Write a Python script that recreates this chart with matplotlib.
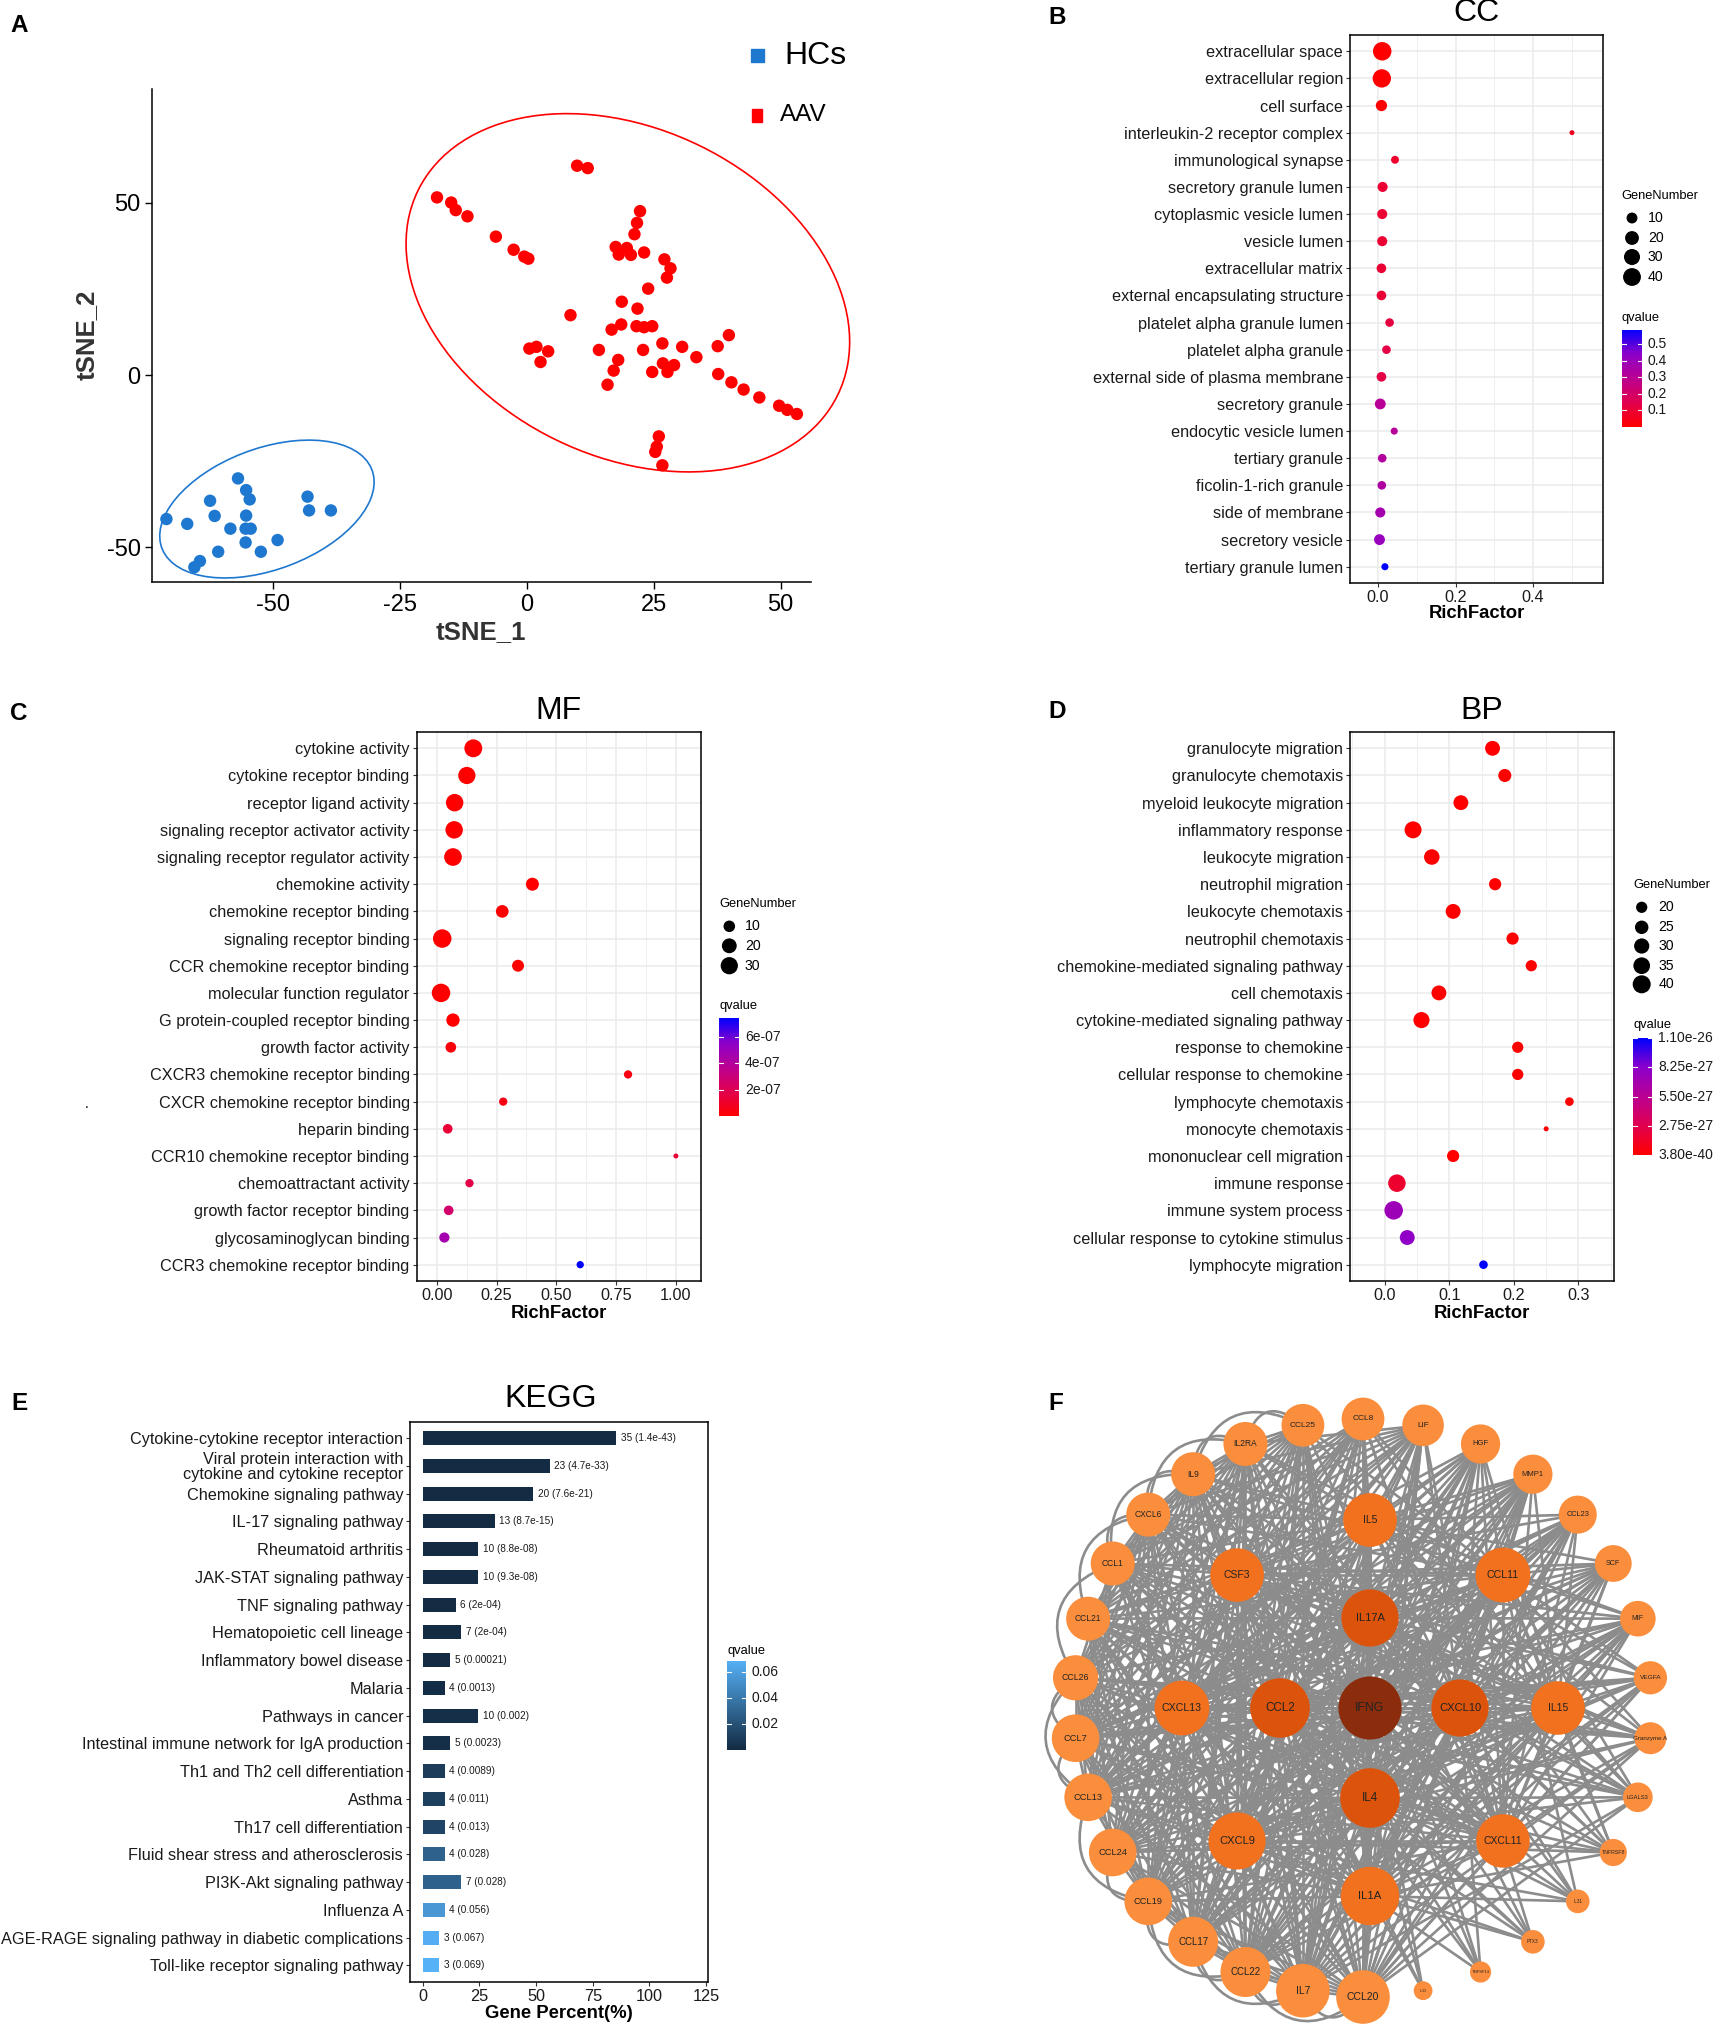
import numpy as np
import matplotlib
matplotlib.use('Agg')
import matplotlib.pyplot as plt
from matplotlib.colors import LinearSegmentedColormap, Normalize
from matplotlib.patches import Circle, Rectangle, PathPatch, Ellipse
from matplotlib.path import Path
from matplotlib.collections import LineCollection

plt.rcParams['font.family'] = ['Liberation Sans', 'DejaVu Sans']
plt.rcParams['axes.unicode_minus'] = False

W, H = 1713, 2032

# ---------------- data ----------------
# A: tSNE
red_x = [-17.7, -14.9, -14.0, -11.7, -6.1, -2.6, -0.5, 0.3, 9.9, 12.0, 22.3, 21.7, 21.2, 17.5, 19.7,
         18.1, 20.5, 23.1, 27.1, 28.3, 27.6, 23.9, 18.7, 21.8, 8.6, 16.7, 18.6, 21.6, 23.1, 24.7, 26.7,
         30.6, 33.4, 22.9, 14.2, 18.0, 17.1, 15.9, 24.7, 26.8, 29.0, 27.7, 0.5, 1.9, 4.2, 2.7, 37.6,
         39.8, 37.7, 40.3, 42.7, 45.8, 49.7, 51.3, 53.2, 26.0, 25.6, 25.3, 26.7]
red_y = [51.6, 50.1, 47.9, 46.1, 40.2, 36.4, 34.4, 33.8, 60.8, 60.1, 47.6, 44.2, 40.9, 37.2, 36.9,
         35.0, 34.9, 35.6, 33.6, 31.0, 28.3, 25.1, 21.3, 19.3, 17.4, 13.2, 14.7, 14.2, 13.9, 14.2, 9.2,
         8.2, 5.2, 7.3, 7.3, 4.4, 1.3, -2.8, 0.9, 3.4, 2.9, 0.9, 7.7, 8.2, 6.9, 3.8, 8.4,
         11.6, 0.3, -2.1, -4.2, -6.5, -8.9, -10.1, -11.3, -17.8, -20.8, -22.3, -26.2]
blue_x = [-71.0, -66.9, -62.4, -61.5, -60.8, -64.4, -65.5, -56.9, -55.3, -54.6, -55.3, -58.4, -55.4,
          -54.4, -55.4, -52.4, -49.1, -43.2, -42.9, -38.6]
blue_y = [-41.8, -43.2, -36.5, -40.9, -51.3, -54.0, -55.8, -30.0, -33.4, -36.1, -40.8, -44.6, -44.6,
          -44.6, -48.6, -51.3, -47.9, -35.3, -39.3, -39.3]
# 95% group ellipses: centre x, centre y, semi-major, semi-minor, angle (deg)
red_ellipse = [19.9, 23.9, 55.2, 39.6, -61.3]
blue_ellipse = [-51.2, -38.9, 24.3, 16.0, 41.1]

# B: GO CC
cc_terms = ['extracellular space', 'extracellular region', 'cell surface', 'interleukin-2 receptor complex',
            'immunological synapse', 'secretory granule lumen', 'cytoplasmic vesicle lumen', 'vesicle lumen',
            'extracellular matrix', 'external encapsulating structure', 'platelet alpha granule lumen',
            'platelet alpha granule', 'external side of plasma membrane', 'secretory granule',
            'endocytic vesicle lumen', 'tertiary granule', 'ficolin-1-rich granule', 'side of membrane',
            'secretory vesicle', 'tertiary granule lumen']
cc_rich = [0.011, 0.010, 0.009, 0.500, 0.044, 0.012, 0.011, 0.011, 0.009, 0.009, 0.030, 0.022, 0.009,
           0.006, 0.042, 0.011, 0.010, 0.006, 0.004, 0.018]
cc_genes = [44, 43, 11, 2, 4, 8, 8, 8, 7, 7, 5, 5, 7, 10, 3, 5, 5, 8, 10, 3]
cc_q = [2.1e-21, 3.4e-20, 2.2e-05, 0.062, 0.085, 0.094, 0.094, 0.094, 0.10, 0.10, 0.12, 0.13, 0.13,
        0.30, 0.31, 0.32, 0.33, 0.36, 0.40, 0.585]

# C: GO MF
mf_terms = ['cytokine activity', 'cytokine receptor binding', 'receptor ligand activity',
            'signaling receptor activator activity', 'signaling receptor regulator activity',
            'chemokine activity', 'chemokine receptor binding', 'signaling receptor binding',
            'CCR chemokine receptor binding', 'molecular function regulator',
            'G protein-coupled receptor binding', 'growth factor activity',
            'CXCR3 chemokine receptor binding', 'CXCR chemokine receptor binding', 'heparin binding',
            'CCR10 chemokine receptor binding', 'chemoattractant activity',
            'growth factor receptor binding', 'glycosaminoglycan binding', 'CCR3 chemokine receptor binding']
mf_rich = [0.153, 0.126, 0.075, 0.073, 0.068, 0.400, 0.274, 0.023, 0.340, 0.018, 0.068, 0.059, 0.800,
           0.278, 0.046, 1.000, 0.137, 0.050, 0.032, 0.600]
mf_genes = [33, 30, 31, 31, 32, 14, 13, 36, 11, 36, 15, 8, 4, 4, 6, 2, 4, 6, 7, 3]
mf_q = [2.0e-20, 5.1e-19, 4.3e-16, 4.3e-16, 6.6e-16, 1.2e-15, 3.5e-14, 8.2e-13, 4.6e-12, 1.1e-11,
        6.1e-10, 2.6e-08, 3.8e-08, 4.5e-08, 1.3e-07, 1.35e-07, 1.7e-07, 2.6e-07, 4.6e-07, 7.44e-07]

# D: GO BP
bp_terms = ['granulocyte migration', 'granulocyte chemotaxis', 'myeloid leukocyte migration',
            'inflammatory response', 'leukocyte migration', 'neutrophil migration', 'leukocyte chemotaxis',
            'neutrophil chemotaxis', 'chemokine-mediated signaling pathway', 'cell chemotaxis',
            'cytokine-mediated signaling pathway', 'response to chemokine', 'cellular response to chemokine',
            'lymphocyte chemotaxis', 'monocyte chemotaxis', 'mononuclear cell migration', 'immune response',
            'immune system process', 'cellular response to cytokine stimulus', 'lymphocyte migration']
bp_rich = [0.167, 0.186, 0.118, 0.044, 0.073, 0.171, 0.106, 0.198, 0.227, 0.084, 0.057, 0.206, 0.206,
           0.286, 0.250, 0.106, 0.019, 0.014, 0.035, 0.153]
bp_genes = [29, 24, 29, 36, 31, 22, 29, 22, 20, 29, 33, 20, 20, 16, 14, 22, 38, 42, 29, 16]
bp_q = [3.8e-40, 1.2e-38, 2.5e-37, 6.1e-37, 1.9e-36, 5.4e-35, 1.1e-34, 8.7e-34, 2.3e-33, 1.4e-32,
        3.1e-32, 8.6e-32, 8.6e-32, 4.2e-31, 6.3e-30, 1.5e-29, 1.6e-27, 7.3e-27, 8.0e-27, 1.1e-26]

# E: KEGG
kegg_terms = ['Cytokine-cytokine receptor interaction',
              'Viral protein interaction with\ncytokine and cytokine receptor',
              'Chemokine signaling pathway', 'IL-17 signaling pathway', 'Rheumatoid arthritis',
              'JAK-STAT signaling pathway', 'TNF signaling pathway', 'Hematopoietic cell lineage',
              'Inflammatory bowel disease', 'Malaria', 'Pathways in cancer',
              'Intestinal immune network for IgA production', 'Th1 and Th2 cell differentiation', 'Asthma',
              'Th17 cell differentiation', 'Fluid shear stress and atherosclerosis',
              'PI3K-Akt signaling pathway', 'Influenza A',
              'AGE-RAGE signaling pathway in diabetic complications', 'Toll-like receptor signaling pathway']
kegg_count = [35, 23, 20, 13, 10, 10, 6, 7, 5, 4, 10, 5, 4, 4, 4, 4, 7, 4, 3, 3]
kegg_q = [1.4e-43, 4.7e-33, 7.6e-21, 8.7e-15, 8.8e-08, 9.3e-08, 2e-04, 2e-04, 0.00021, 0.0013, 0.002,
          0.0023, 0.0089, 0.011, 0.013, 0.028, 0.028, 0.056, 0.067, 0.069]
kegg_total = 41

# F: PPI network
net_center = ['IFNG']
net_inner = ['IL17A', 'CXCL10', 'IL4', 'CCL2']
net_middle = ['IL5', 'CCL11', 'IL15', 'CXCL11', 'IL1A', 'CXCL9', 'CXCL13', 'CSF3']
net_ring = ['CCL20', 'IL7', 'CCL22', 'CCL17', 'CCL19', 'CCL24', 'CCL13', 'CCL7', 'CCL26', 'CCL21', 'CCL1',
            'CXCL6', 'IL9', 'IL2RA', 'CCL25', 'CCL8', 'LIF', 'HGF', 'MMP1', 'CCL23', 'SCF', 'MIF', 'VEGFA',
            'Granzyme A', 'LGALS3', 'TNFRSF8', 'IL31', 'PTX3', 'TNFSF13', 'IL33']
net_degree = [41,
              36, 36, 38, 38,
              33, 34, 33, 33, 37, 36, 34, 33,
              33, 33, 30, 30, 28, 28, 28, 28, 26, 25, 25, 25, 25, 25, 24, 24, 23, 21, 21, 20, 19, 18, 16,
              15, 13, 11, 8, 8, 6, 4]

# ---------------- helpers ----------------
fig = plt.figure(figsize=(W / 100, H / 100), dpi=100)
fig.patch.set_facecolor('white')


def rect(l, t, r, b):
    return [l / W, 1 - b / H, (r - l) / W, (b - t) / H]


over = fig.add_axes([0, 0, 1, 1], zorder=10)
over.set_xlim(0, W)
over.set_ylim(H, 0)
over.axis('off')


def txt(x, y, s, **kw):
    kw.setdefault('va', 'center')
    over.text(x, y, s, **kw)


def r_fmt(v):
    sig = float(f"{v:.2g}")
    fixed = np.format_float_positional(sig, trim='-')
    sci = np.format_float_scientific(sig, trim='-', exp_digits=2)
    return fixed if len(fixed) <= len(sci) else sci


def dot_px(v, vmin, vmax):
    return 5.0 + 13.5 * np.sqrt((np.asarray(v, float) - vmin) / (vmax - vmin))


q_cmap = LinearSegmentedColormap.from_list(
    'rb', ['#FF0000', '#E1004F', '#BB0093', '#8C00CB', '#0000FF'])
k_cmap = LinearSegmentedColormap.from_list('kegg', ['#132B43', '#56B1F7'])
GRID = '#EBEBEB'
TXT = '#1a1a1a'

for letter, x, y in [('A', 10, 25), ('B', 1048, 18), ('C', 10, 713), ('D', 1048, 711),
                     ('E', 11, 1404), ('F', 1048, 1404)]:
    txt(x, y, letter, fontsize=17.5, fontweight='bold', ha='left')

# ---------------- A ----------------
axA = fig.add_axes(rect(151.7, 88.9, 810.6, 582.4))
blue = '#1F78CF'
red = '#FF0000'
axA.scatter(blue_x, blue_y, s=80, color=blue, edgecolors='none', zorder=3)
axA.scatter(red_x, red_y, s=80, color=red, edgecolors='none', zorder=3)
for (ex, ey, ea, eb, ang), col in [(red_ellipse, red), (blue_ellipse, blue)]:
    axA.add_patch(Ellipse((ex, ey), 2 * ea, 2 * eb, angle=ang, facecolor='none', edgecolor=col,
                          lw=1.2, clip_on=False))
axA.set_xlim(-73.9, 55.9)
axA.set_ylim(-60.2, 83.1)
axA.set_xticks([-50, -25, 0, 25, 50])
axA.set_yticks([-50, 0, 50])
for s in ['top', 'right']:
    axA.spines[s].set_visible(False)
for s in ['left', 'bottom']:
    axA.spines[s].set_linewidth(1.1)
axA.tick_params(length=5, width=1.0, labelsize=17, labelcolor='black', pad=3)
txt(481, 632, 'tSNE_1', fontsize=18.5, fontweight='bold', color='#333333', ha='center')
txt(87, 335, 'tSNE_2', fontsize=18.5, fontweight='bold', color='#333333', ha='center', rotation=90)
over.add_patch(Rectangle((751, 49), 13, 13, color=blue))
txt(784, 56, 'HCs', fontsize=23, ha='left')
over.add_patch(Rectangle((751.5, 108.5), 10, 13, color=red))
txt(779.5, 115, 'AAV', fontsize=17.5, ha='left')


# ---------------- dot panels ----------------
def colorbar(box, cmap, vmin, vmax, ticks, labels, lab_x, fs=10):
    l, t, r, b = box
    cax = fig.add_axes(rect(l, t, r, b))
    grad = np.linspace(vmin, vmax, 256)[:, None]
    cax.imshow(grad, aspect='auto', cmap=cmap, norm=Normalize(vmin, vmax), origin='lower',
               extent=(0, 1, vmin, vmax), interpolation='bilinear')
    for tk in ticks:
        cax.plot([0, 0.2], [tk, tk], color='white', lw=0.8)
        cax.plot([0.8, 1], [tk, tk], color='white', lw=0.8)
    cax.set_xlim(0, 1)
    cax.set_ylim(vmin, vmax)
    cax.axis('off')
    for tk, lab in zip(ticks, labels):
        y = b - (tk - vmin) / (vmax - vmin) * (b - t)
        txt(lab_x, y, lab, fontsize=fs, ha='left', color=TXT)


def dot_panel(box, terms, rich, genes, q, xlim, major, minor, fmt, title, title_y, xlab_y):
    ax = fig.add_axes(rect(*box))
    n = len(terms)
    ypos = np.arange(n, 0, -1)
    for x in minor:
        ax.axvline(x, color=GRID, lw=0.55, zorder=0)
    for x in major:
        ax.axvline(x, color=GRID, lw=1.1, zorder=0)
    for y in ypos:
        ax.axhline(y, color=GRID, lw=1.1, zorder=0)
    g = np.asarray(genes, float)
    d = dot_px(g, g.min(), g.max())
    ax.scatter(rich, ypos, s=(d * 0.72) ** 2, c=q, cmap=q_cmap, vmin=min(q), vmax=max(q),
               edgecolors='none', zorder=3)
    ax.set_xlim(*xlim)
    ax.set_ylim(0.4, n + 0.6)
    ax.set_yticks(ypos, terms)
    ax.set_xticks(major, [fmt.format(v) for v in major])
    ax.tick_params(length=2.9, width=0.8, color='#333333', labelsize=11.7, labelcolor=TXT, pad=2)
    for s in ax.spines.values():
        s.set_linewidth(1.1)
        s.set_color('black')
    cx = (box[0] + box[2]) / 2
    txt(cx, title_y, title, fontsize=23, ha='center')
    txt(cx, xlab_y, 'RichFactor', fontsize=13.3, fontweight='bold', ha='center')
    return g.min(), g.max()


def size_legend(x, ys, values, gmin, gmax, title_y, dot_x, lab_x):
    txt(x, title_y, 'GeneNumber', fontsize=9.3, ha='left')
    d = dot_px(values, gmin, gmax)
    over.scatter([dot_x] * len(values), ys, s=(d * 0.72) ** 2, color='black', edgecolors='none')
    for y, v in zip(ys, values):
        txt(lab_x, y, str(v), fontsize=10.2, ha='left')


# B
gmin, gmax = dot_panel((1350, 35, 1603, 583), cc_terms, cc_rich, cc_genes, cc_q, (-0.072, 0.58),
                       [0.0, 0.2, 0.4], [0.1, 0.3, 0.5], '{:.1f}', 'CC', 13, 614)
size_legend(1621, [218, 238, 257, 277], [10, 20, 30, 40], gmin, gmax, 196, 1632, 1648)
txt(1622, 318, 'qvalue', fontsize=9.3, ha='left')
colorbar((1622.4, 330, 1641.7, 427), q_cmap, min(cc_q), max(cc_q), [0.1, 0.2, 0.3, 0.4, 0.5],
         ['0.1', '0.2', '0.3', '0.4', '0.5'], 1647.7)

# C
gmin, gmax = dot_panel((416.5, 732, 701, 1281), mf_terms, mf_rich, mf_genes, mf_q, (-0.0845, 1.105),
                       [0.0, 0.25, 0.5, 0.75, 1.0], [0.125, 0.375, 0.625, 0.875], '{:.2f}', 'MF', 711, 1313)
size_legend(719.4, [926.3, 945.8, 965.7], [10, 20, 30], gmin, gmax, 904.3, 729.3, 745)
txt(719.4, 1006.3, 'qvalue', fontsize=9.3, ha='left')
mf_ticks = [2e-07, 4e-07, 6e-07]
colorbar((719.4, 1018.4, 739, 1115.8), q_cmap, min(mf_q), max(mf_q), mf_ticks,
         [r_fmt(v) for v in mf_ticks], 745)
txt(87, 1104, '.', fontsize=10, ha='center')

# D
gmin, gmax = dot_panel((1350, 732, 1614, 1281), bp_terms, bp_rich, bp_genes, bp_q, (-0.0536, 0.355),
                       [0.0, 0.1, 0.2, 0.3], [-0.05, 0.05, 0.15, 0.25, 0.35], '{:.1f}', 'BP', 711, 1313)
size_legend(1633.3, [907.3, 927.3, 946, 965.7, 984.3], [20, 25, 30, 35, 40], gmin, gmax, 885, 1641.7, 1658.3)
txt(1633, 1025, 'qvalue', fontsize=9.3, ha='left')
bp_ticks = np.linspace(min(bp_q), max(bp_q), 5)
colorbar((1632.7, 1038.3, 1651.7, 1155), q_cmap, min(bp_q), max(bp_q), bp_ticks,
         [f"{v:.2e}" for v in bp_ticks], 1658)

# ---------------- E ----------------
axE = fig.add_axes(rect(410, 1421.5, 708, 1982))
n = len(kegg_terms)
ypos = np.arange(n, 0, -1)
pct = np.array(kegg_count) / kegg_total * 100
knorm = Normalize(min(kegg_q), max(kegg_q))
axE.barh(ypos, pct, height=0.5, color=k_cmap(knorm(kegg_q)), zorder=2)
for y, p, c, qv in zip(ypos, pct, kegg_count, kegg_q):
    axE.text(p + 2.0, y, f"{c} ({r_fmt(qv)})", va='center', ha='left', fontsize=7.2, color=TXT)
axE.set_xlim(-5.6, 125.8)
axE.set_ylim(0.4, n + 0.6)
axE.set_yticks(ypos, kegg_terms)
axE.set_xticks([0, 25, 50, 75, 100, 125])
axE.tick_params(length=2.9, width=0.8, color='#333333', labelsize=11.7, labelcolor=TXT, pad=2)
for lab in axE.get_yticklabels():
    lab.set_linespacing(1.0)
for s in axE.spines.values():
    s.set_linewidth(1.1)
txt(551, 1399, 'KEGG', fontsize=23, ha='center')
txt(558.4, 2014, 'Gene Percent(%)', fontsize=13.3, fontweight='bold', ha='center')
txt(727, 1651, 'qvalue', fontsize=9.3, ha='left')
colorbar((727, 1660.7, 746, 1750), k_cmap, min(kegg_q), max(kegg_q), [0.02, 0.04, 0.06],
         ['0.02', '0.04', '0.06'], 751.7)

# ---------------- F ----------------
axF = fig.add_axes(rect(1040, 1370, 1713, 2032))
axF.set_xlim(1040, 1713)
axF.set_ylim(2032, 1370)
axF.axis('off')

nodes = net_center + net_inner + net_middle + net_ring
deg = dict(zip(nodes, net_degree))
level = {}
pos = {}
cx, cy = 1370, 1708
pos['IFNG'] = (cx, cy)
level['IFNG'] = 0
for k, nm in enumerate(net_inner):
    a = np.deg2rad(90 - 90 * k)
    pos[nm] = (cx + 90 * np.cos(a), cy - 90 * np.sin(a))
    level[nm] = 1
for k, nm in enumerate(net_middle):
    a = np.deg2rad(90 - 45 * k)
    pos[nm] = (cx + 188 * np.cos(a), cy - 188 * np.sin(a))
    level[nm] = 2
rcx, rcy, R = 1363, 1708, 289
ring_idx = {}
for k, nm in enumerate(net_ring):
    a = np.deg2rad(-90 - 12 * k)
    pos[nm] = (rcx + R * np.cos(a), rcy - R * np.sin(a))
    level[nm] = 3
    ring_idx[nm] = k

# rebuild an edge set that honours the node degrees
resid = dict(deg)
edges = set()
for u in sorted(nodes, key=lambda v: deg[v]):
    need = resid[u]
    if need <= 0:
        continue
    cands = [v for v in nodes if v != u and resid[v] > 0 and tuple(sorted((u, v))) not in edges]
    cands.sort(key=lambda v: -resid[v])
    for v in cands[:need]:
        edges.add(tuple(sorted((u, v))))
        resid[u] -= 1
        resid[v] -= 1

ECOL = '#8C8C8C'
ELW = 1.9
segs = []
for u, v in sorted(edges):
    if u in ring_idx and v in ring_idx:
        k = abs(ring_idx[u] - ring_idx[v])
        k = min(k, 30 - k)
        if k <= 2:
            p0 = np.array(pos[u])
            p2 = np.array(pos[v])
            mvec = (p0 + p2) / 2 - np.array([rcx, rcy])
            mdir = mvec / np.linalg.norm(mvec)
            rm = np.linalg.norm(mvec)
            rp = R + 22 + 8 * (k - 1)
            p1 = np.array([rcx, rcy]) + mdir * (2 * rp - rm)
            path = Path([p0, p1, p2], [Path.MOVETO, Path.CURVE3, Path.CURVE3])
            axF.add_patch(PathPatch(path, facecolor='none', edgecolor=ECOL, lw=ELW, zorder=1))
    segs.append([pos[u], pos[v]])
axF.add_collection(LineCollection(segs, colors=ECOL, linewidths=ELW, zorder=1))

level_col = ['#8B2D0C', '#DC540B', '#F1711F', '#FB8E3D']
for nm in nodes:
    dia = 14 + 1.2 * deg[nm]
    x, y = pos[nm]
    axF.add_patch(Circle((x, y), dia / 2, facecolor=level_col[level[nm]], edgecolor='none', zorder=2))
    axF.text(x, y, nm, ha='center', va='center', fontsize=dia * 0.14, color='#222222', zorder=3)

fig.savefig('out.png', dpi=100, facecolor='white')
